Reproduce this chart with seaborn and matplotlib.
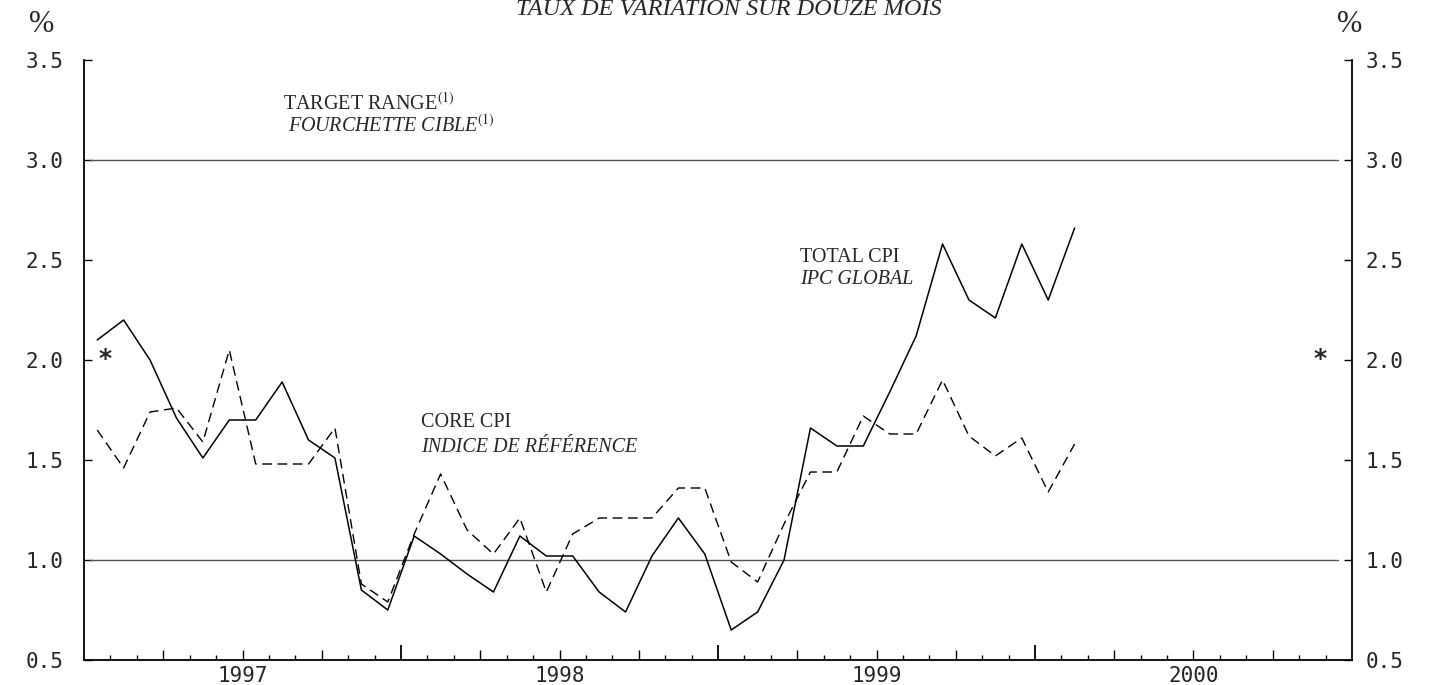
import numpy as np
import pandas as pd
import matplotlib
matplotlib.use('Agg')
import matplotlib.pyplot as plt
import seaborn as sns

# mois depuis janvier 1997 (0 = janvier 1997)
mois = list(range(38))

# IPC global (trait plein), taux sur douze mois en %
ipc_global = [2.10, 2.20, 2.00, 1.71, 1.51, 1.70, 1.70, 1.89, 1.60, 1.51, 0.85, 0.75,
              1.12, 1.03, 0.93, 0.84, 1.12, 1.02, 1.02, 0.84, 0.74, 1.02, 1.21, 1.03,
              0.65, 0.74, 1.00, 1.66, 1.57, 1.57, 1.84, 2.12, 2.58, 2.30, 2.21, 2.58, 2.30, 2.66]

# indice de référence (tirets)
indice_ref = [1.65, 1.46, 1.74, 1.76, 1.59, 2.05, 1.48, 1.48, 1.48, 1.66, 0.88, 0.79,
              1.13, 1.43, 1.15, 1.03, 1.21, 0.84, 1.13, 1.21, 1.21, 1.21, 1.36, 1.36,
              0.99, 0.89, 1.18, 1.44, 1.44, 1.72, 1.63, 1.63, 1.90, 1.62, 1.52, 1.61, 1.34, 1.58]

annees = ['1997', '1998', '1999', '2000']
bornes_cible = [1.0, 3.0]
yticks = [0.5, 1.0, 1.5, 2.0, 2.5, 3.0, 3.5]

df = pd.DataFrame({'mois': mois, 'global': ipc_global, 'ref': indice_ref})

sns.set_style('white')
plt.rcParams['font.family'] = ['DejaVu Sans']
plt.rcParams['mathtext.fontset'] = 'stix'

fig = plt.figure(figsize=(14.42, 6.85), dpi=100)
ax = fig.add_axes([84 / 1442, 25 / 685, 1268 / 1442, 600 / 685])

# fourchette cible
for b in bornes_cible:
    ax.axhline(b, xmin=0.005, xmax=0.989, color='#555555', lw=1.0, zorder=1)

sns.lineplot(data=df, x='mois', y='global', ax=ax, color='black', lw=1.1)
sns.lineplot(data=df, x='mois', y='ref', ax=ax, color='black', lw=1.0)
ax.lines[-1].set_dashes([7, 4])

n_mois = 12 * len(annees)
ax.set_xlim(-0.5, n_mois - 0.5)
ax.set_ylim(0.5, 3.5)
ax.set_xlabel('')
ax.set_ylabel('')

# graduations : mois (petites), trimestres (moyennes), années (grandes)
trim = [k for k in range(3, n_mois, 3) if k % 12]
ax.set_xticks([k - 0.5 for k in trim])
ax.set_xticklabels([annees[k // 12] if k % 12 == 6 else '' for k in trim])
ax.set_xticks([k - 0.5 for k in range(1, n_mois) if k % 3], minor=True)
ax.tick_params(axis='x', which='both', bottom=True, color='black')
ax.tick_params(axis='x', which='major', direction='in', length=7, width=1,
               pad=4, labelsize=15, labelfontfamily='DejaVu Sans Mono')
ax.tick_params(axis='x', which='minor', direction='in', length=3.5, width=1)

sec = ax.secondary_xaxis('bottom')
sec.set_xticks([12 * k - 0.5 for k in range(1, len(annees))])
sec.tick_params(direction='in', length=11, width=1.3, bottom=True, labelbottom=False, color='black')
sec.spines['bottom'].set_visible(False)

ax.set_yticks(yticks)
ax.set_yticklabels([f'{v:.1f}' for v in yticks])
ax.tick_params(axis='y', direction='in', length=6, width=1, pad=15, left=True, color='black',
               labelsize=15, labelfontfamily='DejaVu Sans Mono')

ax2 = ax.twinx()
ax2.set_ylim(ax.get_ylim())
ax2.set_yticks(yticks)
ax2.set_yticklabels([f'{v:.1f}' for v in yticks])
ax2.tick_params(axis='y', direction='in', length=6, width=1, pad=10, right=True, color='black',
                labelsize=15, labelfontfamily='DejaVu Sans Mono')

for a in (ax, ax2):
    a.spines['top'].set_visible(False)
    for s in a.spines.values():
        s.set_color('black')
        s.set_linewidth(1.3)
ax2.spines['left'].set_visible(False)
ax2.spines['bottom'].set_visible(False)
ax.spines['right'].set_visible(False)

# textes
serif = 'Liberation Serif'
ax.text(7.03, 3.25, r'TARGET RANGE$^{\mathrm{(1)}}$', family=serif, fontsize=14.5, va='baseline')
ax.text(7.22, 3.14, r'FOURCHETTE CIBLE$^{\mathit{(1)}}$', family=serif, style='italic',
        fontsize=14.5, va='baseline')
ax.text(12.25, 1.667, 'CORE CPI', family=serif, fontsize=14.5, va='baseline')
ax.text(12.25, 1.54, 'INDICE DE RÉFÉRENCE', family=serif, style='italic', fontsize=14.5, va='baseline')
ax.text(26.6, 2.49, 'TOTAL CPI', family=serif, fontsize=14.5, va='baseline')
ax.text(26.6, 2.38, 'IPC GLOBAL', family=serif, style='italic', fontsize=14.5, va='baseline')

ax.text(0.3, 2.005, '*', fontsize=18, fontweight='bold', ha='center', va='center')
ax.text(46.3, 2.005, '*', fontsize=18, fontweight='bold', ha='center', va='center')

fig.text(42 / 1442, 1 - 25 / 685, '%', family=serif, fontsize=22, ha='center', va='center')
fig.text(1350 / 1442, 1 - 25 / 685, '%', family=serif, fontsize=22, ha='center', va='center')
fig.text(729 / 1442, 1 - 15 / 685, 'TAUX DE VARIATION SUR DOUZE MOIS', family=serif,
         style='italic', fontsize=17.5, ha='center', va='baseline')

fig.savefig('out.png', dpi=100)
